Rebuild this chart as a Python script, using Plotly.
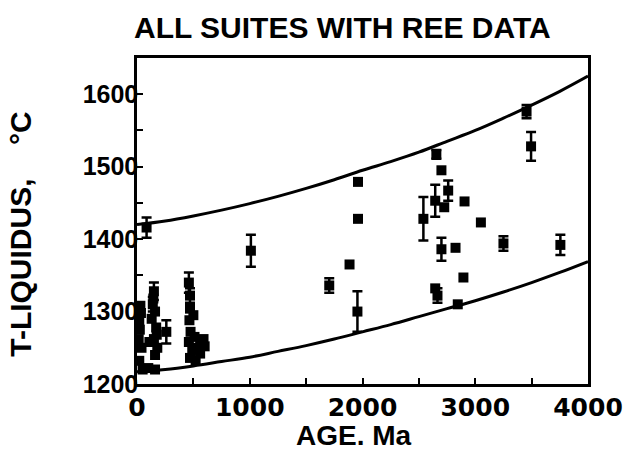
import plotly.graph_objects as go

# ---- model curves ----
curve_age = [0, 250, 500, 750, 1000, 1250, 1500, 1750, 2000, 2250, 2500, 2750, 3000, 3250, 3500, 3750, 4000]
upper_T = [1420, 1425, 1432, 1440, 1449, 1459, 1470, 1482, 1495, 1507, 1520, 1535, 1550, 1567, 1585, 1604, 1625]
lower_T = [1217, 1220, 1225, 1231, 1237, 1245, 1253, 1262, 1272, 1282, 1293, 1304, 1315, 1327, 1340, 1354, 1369]

# ---- suites with REE data: age (Ma), T-liquidus (C), error (C) ----
age = [2655, 2700, 2760, 2645, 2725, 2905, 3050, 2540, 2700, 2825, 3250, 3755, 2895, 2645, 2665, 2845,
       3455, 3495,
       1010, 1960, 1960, 1885, 1705, 1955,
       85,
       30, 20, 15, 40, 20, 50, 100, 160, 25, 35,
       150, 140, 160, 130, 170, 150, 110, 180, 160, 145, 175,
       260,
       460, 470, 470, 465, 475, 460, 490, 470, 560, 600, 560, 520, 500, 510, 590, 540]
temp = [1517, 1495, 1467, 1453, 1444, 1452, 1423, 1428, 1386, 1388, 1394, 1392, 1347, 1332, 1322, 1310,
        1576, 1528,
        1384, 1479, 1428, 1365, 1336, 1300,
        1416,
        1308, 1288, 1262, 1250, 1232, 1220, 1222, 1220, 1275, 1298,
        1328, 1310, 1300, 1290, 1278, 1262, 1258, 1250, 1240, 1318, 1268,
        1272,
        1340, 1322, 1304, 1288, 1272, 1258, 1247, 1236, 1258, 1252, 1242, 1233, 1295, 1265, 1262, 1250]
err = [6, 0, 14, 22, 0, 0, 0, 30, 16, 0, 10, 14, 0, 0, 10, 0,
       9, 20,
       22, 0, 0, 0, 10, 28,
       14,
       0, 0, 0, 0, 0, 0, 0, 0, 0, 0,
       12, 10, 0, 0, 0, 0, 0, 0, 0, 0, 0,
       16,
       14, 10, 0, 0, 0, 0, 0, 0, 0, 0, 0, 0, 0, 0, 0, 0]

x_tickvals = [0, 500, 1000, 1500, 2000, 2500, 3000, 3500, 4000]
x_ticktext = ["0", "", "1000", "", "2000", "", "3000", "", "4000"]
y_tickvals = [1200, 1250, 1300, 1350, 1400, 1450, 1500, 1550, 1600]
y_ticktext = ["1200", "", "1300", "", "1400", "", "1500", "", "1600"]

title_text = "ALL SUITES WITH REE DATA"
x_title = "AGE. Ma"
y_title = "T-LIQUIDUS,\u00a0\u00a0\u00a0\u00a0°C"

FONT = "Liberation Sans, Arial, sans-serif"

fig = go.Figure()
for ys in (upper_T, lower_T):
    fig.add_trace(go.Scatter(x=curve_age, y=ys, mode="lines",
                             line=dict(color="black", width=3, shape="spline"),
                             hoverinfo="skip", showlegend=False))

ea = [a for a, e in zip(age, err) if e > 0]
et = [t for t, e in zip(temp, err) if e > 0]
ee = [e for e in err if e > 0]
na = [a for a, e in zip(age, err) if e == 0]
nt = [t for t, e in zip(temp, err) if e == 0]

fig.add_trace(go.Scatter(x=ea, y=et, mode="markers",
                         marker=dict(symbol="square", size=10, color="black"),
                         error_y=dict(type="data", array=ee, visible=True, color="black",
                                      thickness=2.5, width=5),
                         showlegend=False))
fig.add_trace(go.Scatter(x=na, y=nt, mode="markers",
                         marker=dict(symbol="square", size=10, color="black"),
                         showlegend=False))

fig.update_layout(
    width=635, height=452,
    margin=dict(l=137, r=38, t=58, b=68),
    paper_bgcolor="white", plot_bgcolor="white",
    showlegend=False,
    xaxis=dict(range=[0, 4000], tickvals=x_tickvals, ticktext=x_ticktext,
               ticks="inside", ticklen=6, tickwidth=2, tickcolor="black",
               showline=True, linecolor="black", linewidth=2.5, mirror=True,
               showgrid=False, zeroline=False, ticklabelstandoff=-1,
               tickfont=dict(family="DejaVu Sans, sans-serif", size=25, color="black", weight="bold")),
    yaxis=dict(range=[1200, 1650], tickvals=y_tickvals, ticktext=y_ticktext,
               ticks="inside", ticklen=6, tickwidth=2, tickcolor="black",
               showline=True, linecolor="black", linewidth=2.5, mirror=True,
               showgrid=False, zeroline=False, ticklabelstandoff=-9,
               tickfont=dict(family=FONT, size=25, color="black", weight="bold")),
    annotations=[
        dict(text="<b>" + title_text + "</b>", xref="paper", yref="paper", x=0.455, y=1.095,
             xanchor="center", yanchor="middle", showarrow=False,
             font=dict(family=FONT, size=30, color="black")),
        dict(text="<b>" + x_title + "</b>", xref="paper", yref="paper", x=0.4804, y=-0.1595,
             xanchor="center", yanchor="middle", showarrow=False,
             font=dict(family=FONT, size=28, color="black")),
        dict(text="<b>" + y_title + "</b>", xref="paper", yref="paper", x=-0.257, y=0.458,
             xanchor="center", yanchor="middle", showarrow=False, textangle=-90,
             font=dict(family=FONT, size=30, color="black")),
    ],
)

fig.write_html("out.html", config={"displayModeBar": False},
               post_script="document.body.style.margin='0px';document.body.style.overflow='hidden';")
